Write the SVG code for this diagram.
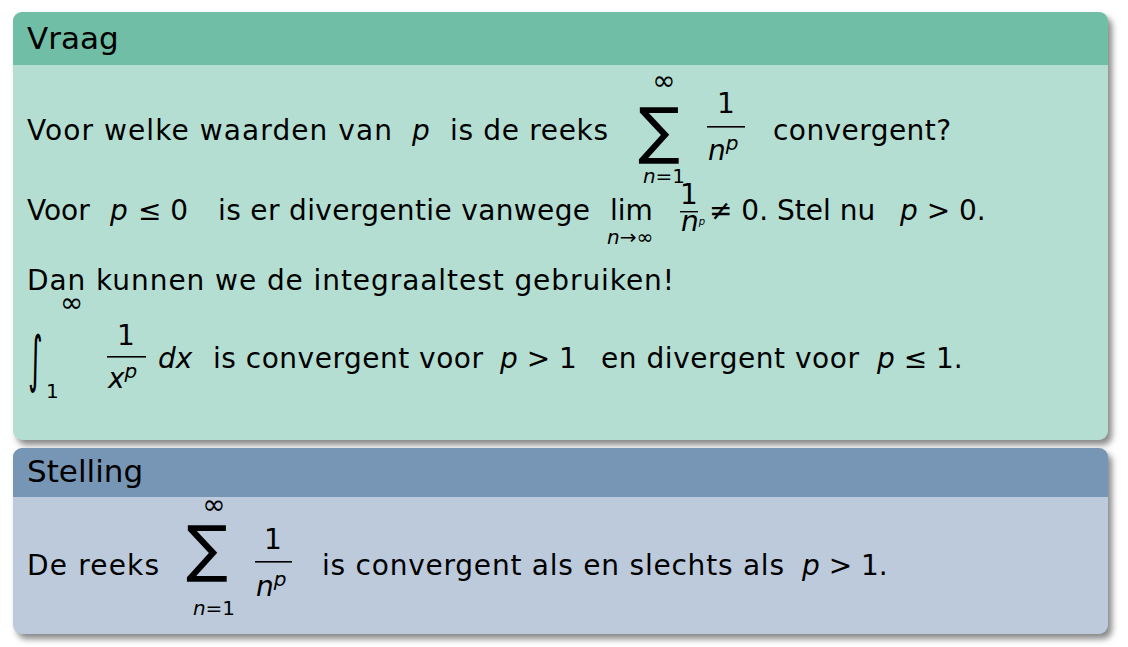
<svg xmlns="http://www.w3.org/2000/svg" width="1128" height="647" viewBox="0 0 1128 647">
<defs>
<style>
text{font-family:"DejaVu Sans","Liberation Sans",sans-serif;font-size:28px;fill:#000}
.i{font-style:italic}
.s{font-size:20px}
.h{font-size:31px}
.big{font-size:62px}
</style>
<filter id="sh" x="-5%" y="-5%" width="110%" height="115%"><feGaussianBlur stdDeviation="3"/></filter>
</defs>
<g id="vraag">
<rect x="17" y="17" width="1095" height="428" rx="9" fill="#888" filter="url(#sh)"/>
<rect x="13" y="12" width="1095" height="428" rx="9" fill="#b5ded2"/>
<path d="M13 65 V21 a9 9 0 0 1 9 -9 H1099 a9 9 0 0 1 9 9 V65 Z" fill="#6fbea5"/>
<text class="h" x="27" y="49">Vraag</text>
<text x="27" y="140" textLength="365">Voor welke waarden van</text>
<text class="i" x="412" y="140">p</text>
<text x="450" y="140" textLength="158">is de reeks</text>
<text class="big" x="638" y="152">∑</text>
<text x="664" y="90" text-anchor="middle">∞</text>
<text class="s i" x="664" y="183" text-anchor="middle">n<tspan font-style="normal">=1</tspan></text>
<text x="726" y="113" text-anchor="middle">1</text>
<rect x="707" y="126" width="38" height="1.6"/>
<text class="i" x="708" y="160">n<tspan class="s" dy="-10">p</tspan></text>
<text x="773" y="140" textLength="178">convergent?</text>
<text x="27" y="220">Voor</text>
<text class="i" x="110" y="220">p<tspan font-style="normal" x="138">≤ 0</tspan></text>
<text x="218" y="220" textLength="372">is er divergentie vanwege</text>
<text x="610" y="220">lim</text>
<text class="s i" x="630" y="244" text-anchor="middle">n<tspan font-style="normal">→∞</tspan></text>
<text x="689" y="204" text-anchor="middle" font-size="17">1</text>
<rect x="680" y="211" width="18" height="1.4"/>
<text class="i" x="681" y="231" font-size="15">n<tspan font-size="10" dy="-6">p</tspan></text>
<text x="709" y="220">≠ 0. Stel nu</text>
<text class="i" x="900" y="220">p <tspan font-style="normal">&gt; 0.</tspan></text>
<text x="27" y="290" textLength="647">Dan kunnen we de integraaltest gebruiken!</text>
<text transform="translate(28,380) scale(1,2.2)" font-size="40">∫</text>
<text x="60" y="312" font-size="22">∞</text>
<text class="s" x="46" y="398">1</text>
<text x="126" y="345" text-anchor="middle">1</text>
<rect x="107" y="356" width="39" height="1.6"/>
<text class="i" x="108" y="388">x<tspan class="s" dy="-10">p</tspan></text>
<text class="i" x="158" y="368">dx</text>
<text x="213" y="368" textLength="270">is convergent voor</text>
<text class="i" x="500" y="368">p <tspan font-style="normal">&gt; 1</tspan></text>
<text x="601" y="368" textLength="258">en divergent voor</text>
<text class="i" x="877" y="368">p <tspan font-style="normal">≤ 1.</tspan></text>
</g>
<g id="stelling">
<rect x="17" y="453" width="1095" height="186" rx="9" fill="#888" filter="url(#sh)"/>
<rect x="13" y="448" width="1095" height="186" rx="9" fill="#bccadb"/>
<path d="M13 497 V457 a9 9 0 0 1 9 -9 H1099 a9 9 0 0 1 9 9 V497 Z" fill="#7795b4"/>
<text class="h" x="27" y="482">Stelling</text>
<text x="27" y="575" textLength="132">De reeks</text>
<text class="big" x="186" y="570">∑</text>
<text x="214" y="514" text-anchor="middle">∞</text>
<text class="s i" x="214" y="615" text-anchor="middle">n<tspan font-style="normal">=1</tspan></text>
<text x="273" y="549" text-anchor="middle">1</text>
<rect x="255" y="561" width="37" height="1.6"/>
<text class="i" x="256" y="596">n<tspan class="s" dy="-10">p</tspan></text>
<text x="322" y="575" textLength="462">is convergent als en slechts als</text>
<text class="i" x="802" y="575">p <tspan font-style="normal">&gt; 1.</tspan></text>
</g>
</svg>
